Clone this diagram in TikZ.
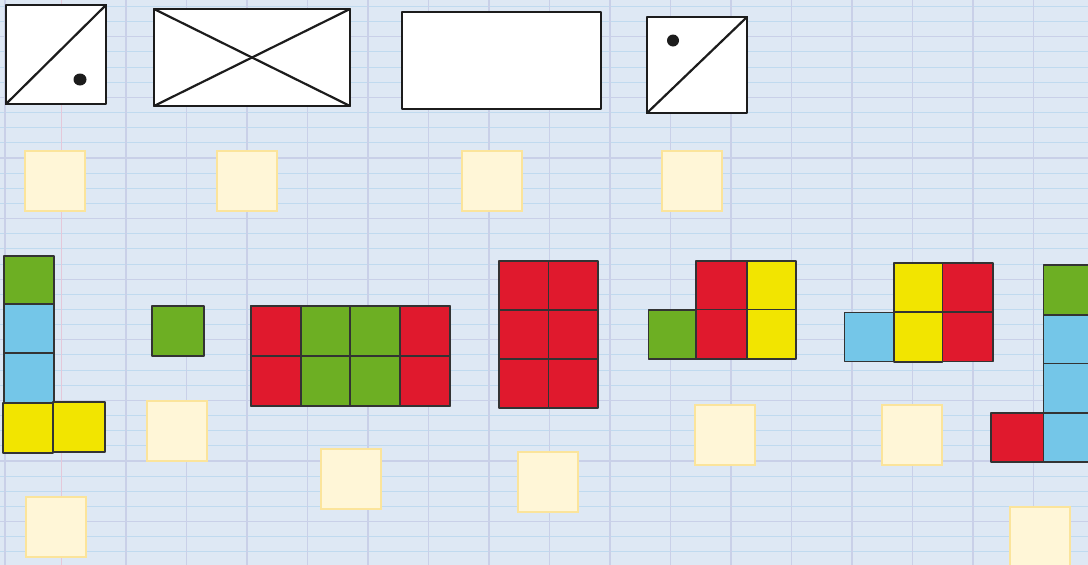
\documentclass[tikz,border=0pt]{standalone}
\usetikzlibrary{calc}
\definecolor{paper}{HTML}{DEE8F4}
\definecolor{thinline}{HTML}{C0DAEF}
\definecolor{darkline}{HTML}{C9D0E8}
\definecolor{margin}{HTML}{E4C8D9}
\definecolor{ink}{HTML}{1C1C1C}
\definecolor{ansfill}{HTML}{FFF6D7}
\definecolor{ansdraw}{HTML}{FBE49B}
\definecolor{cgreen}{HTML}{6DAF23}
\definecolor{cblue}{HTML}{74C6E8}
\definecolor{cyellow}{HTML}{F2E500}
\definecolor{cred}{HTML}{E0192D}
\tikzset{
  figline/.style={draw=ink, line width=2.6pt, line join=round, line cap=round, fill=white},
  diag/.style={draw=ink, line width=2.2pt, line cap=round},
  dotmark/.style={fill=ink},
  cell/.style={draw=ink!90, line width=1.5pt, line join=round},
  ansbox/.style={draw=ansdraw, fill=ansfill, line width=1.2pt, minimum width=60pt, minimum height=60pt, inner sep=0pt, outer sep=0pt},
}
\begin{document}
\begin{tikzpicture}[x=1pt,y=-1pt]
\useasboundingbox (0,0) rectangle (1088,565);
\clip (0,0) rectangle (1088,565);
\fill[paper] (0,0) rectangle (1088,565);
% grid paper
\foreach \i in {-2,...,35} {
  \draw[thinline, line width=0.9pt] (0,{36.7+15.15*\i}) -- (1088,{36.7+15.15*\i});
}
\foreach \i in {-1,...,8} {
  \draw[darkline, line width=1.2pt] (0,{36.7+60.6*\i}) -- (1088,{36.7+60.6*\i});
}
\foreach \i in {0,2,3,...,18} {
  \draw[darkline, line width=1.2pt] ({5+60.5*\i},0) -- ({5+60.5*\i},565);
}
\draw[margin, line width=1pt] (61,0) -- (61,565);

% top figures
\draw[figline] (6,5) rectangle (106,104);
\draw[diag] (6,104) -- (106,5);
\fill[dotmark] (80,79.5) ellipse (6.5pt and 6pt);

\draw[figline] (154,9) rectangle (350,106);
\draw[diag] (154,9) -- (350,106);
\draw[diag] (154,106) -- (350,9);

\draw[figline] (402,12) rectangle (601,109);

\draw[figline] (647,17) rectangle (747,113);
\draw[diag] (647,113) -- (747,17);
\fill[dotmark] (673,40.5) ellipse (6pt and 6pt);

% answer boxes top
\node[ansbox, anchor=north west] (a1) at (25,151) {};
\node[ansbox, anchor=north west] (a2) at (217,151) {};
\node[ansbox, anchor=north west] (a3) at (462,151) {};
\node[ansbox, anchor=north west] (a4) at (662,151) {};

% shape A
\filldraw[cell, fill=cgreen] (4,256) rectangle (54,304);
\filldraw[cell, fill=cblue] (4,304) rectangle (54,353);
\filldraw[cell, fill=cblue] (4,353) rectangle (54,403);
\filldraw[cell, fill=cyellow] (3,403) rectangle (53,453);
\filldraw[cell, fill=cyellow] (53,402) rectangle (105,452);
\node[ansbox, anchor=north west] (b1) at (26,497) {};

% shape B
\filldraw[cell, fill=cgreen] (152,306) rectangle (204,356);
\node[ansbox, anchor=north west] (b2) at (147,401) {};

% shape C
\foreach \c/\x in {cred/251,cgreen/301,cgreen/350,cred/400} {
  \filldraw[cell, fill=\c] (\x,306) rectangle ({\x+50},356);
  \filldraw[cell, fill=\c] (\x,356) rectangle ({\x+50},406);
}
\draw[cell] (251,306) rectangle (450,406);
\node[ansbox, anchor=north west] (b3) at (321,449) {};

% shape D
\foreach \y in {261,310,359} {
  \filldraw[cell, fill=cred] (499,\y) rectangle (548.5,{\y+49});
  \filldraw[cell, fill=cred] (548.5,\y) rectangle (598,{\y+49});
}
\node[ansbox, anchor=north west] (b4) at (518,452) {};

% shape E
\filldraw[cell, fill=cred] (696,261) rectangle (747,309.5);
\filldraw[cell, fill=cyellow] (747,261) rectangle (796,309.5);
\filldraw[cell, fill=cgreen] (648.5,310) rectangle (696,359);
\filldraw[cell, fill=cred] (696,309.5) rectangle (747,359);
\filldraw[cell, fill=cyellow] (747,309.5) rectangle (796,359);
\node[ansbox, anchor=north west] (b5) at (695,405) {};

% shape F
\filldraw[cell, fill=cyellow] (894,263) rectangle (942.5,312);
\filldraw[cell, fill=cred] (942.5,263) rectangle (993,312);
\filldraw[cell, fill=cblue] (844.5,312.5) rectangle (894,361.5);
\filldraw[cell, fill=cyellow] (894,312) rectangle (942.5,362);
\filldraw[cell, fill=cred] (942.5,312) rectangle (993,361.5);
\node[ansbox, anchor=north west] (b6) at (882,405) {};

% shape G
\filldraw[cell, fill=cgreen] (1043.5,265) rectangle (1095,315);
\filldraw[cell, fill=cblue] (1043.5,315) rectangle (1095,363.5);
\filldraw[cell, fill=cblue] (1043.5,363.5) rectangle (1095,413);
\filldraw[cell, fill=cblue] (1043.5,413) rectangle (1095,462);
\filldraw[cell, fill=cred] (991,413) rectangle (1043.5,462);
\node[ansbox, anchor=north west] (b7) at (1010,507) {};
\end{tikzpicture}
\end{document}
